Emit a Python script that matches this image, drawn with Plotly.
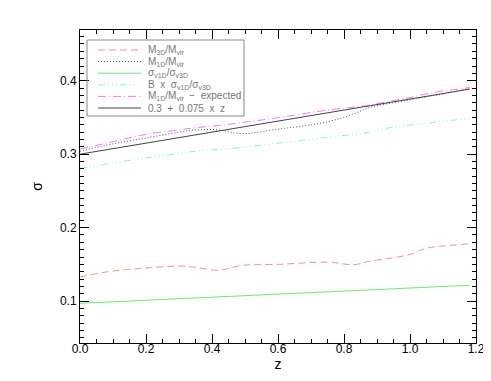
import plotly.graph_objects as go

# redshift samples
z = [0.0, 0.1, 0.2, 0.3, 0.35, 0.42, 0.49, 0.6, 0.75, 0.83, 0.88, 0.95, 1.0, 1.05, 1.1, 1.18]

# M3D/Mvir (red dashed)
m3d = [0.133, 0.141, 0.145, 0.1477, 0.146, 0.142, 0.1486, 0.150, 0.153, 0.1496, 0.1545, 0.159, 0.1635, 0.172, 0.175, 0.178]
# M1D/Mvir (dotted)
m1d = [0.304, 0.314, 0.322, 0.330, 0.333, 0.333, 0.328, 0.334, 0.344, 0.355, 0.364, 0.370, 0.374, 0.378, 0.382, 0.390]
# sigma_v1D / sigma_v3D (green)
sig = [0.097, 0.099, 0.1015, 0.103, 0.1045, 0.106, 0.1075, 0.109, 0.1125, 0.1145, 0.115, 0.1165, 0.1175, 0.119, 0.120, 0.1216]
# B x sigma ratio (cyan)
bsig = [0.2807, 0.288, 0.295, 0.301, 0.304, 0.3065, 0.309, 0.315, 0.323, 0.327, 0.330, 0.337, 0.3396, 0.342, 0.345, 0.348]
# M1D/Mvir - expected (magenta)
mexp = [0.307, 0.317, 0.327, 0.333, 0.336, 0.339, 0.343, 0.3496, 0.360, 0.364, 0.367, 0.373, 0.377, 0.382, 0.386, 0.3905]
# 0.3 + 0.075 z
zfit = [0.0, 1.18]
fitline = [0.3, 0.3885]

names = ["M<sub>3D</sub>/M<sub>vir</sub>",
         "M<sub>1D</sub>/M<sub>vir</sub>",
         "σ<sub>v1D</sub>/σ<sub>v3D</sub>",
         "B  x  σ<sub>v1D</sub>/σ<sub>v3D</sub>",
         "M<sub>1D</sub>/M<sub>vir</sub>  −  expected",
         "0.3  +  0.075  x  z"]
colors = ["#ff8c8c", "#555555", "#66ee66", "#7ff5f5", "#ff70ff", "#444444"]
dashes = ["7px,4px", "1px,2px", "solid", "7px,3px,1px,3px,1px,3px,1px,3px", "8px,3px,1px,3px", "solid"]

fig = go.Figure()

series = [(z, m3d, "spline"), (z, m1d, "spline"), (z, sig, "linear"),
          (z, bsig, "spline"), (z, mexp, "spline"), (zfit, fitline, "linear")]
for (xs, ys, shp), nm, c, d in zip(series, names, colors, dashes):
    fig.add_trace(go.Scatter(x=xs, y=ys, mode="lines", line_shape=shp, name=nm,
                             showlegend=False, line=dict(color=c, width=1, dash=d)))

# hand-drawn legend box like the IDL one
x0, x1 = 72, 468
y0, y1 = 22, 335
def px_x(p):
    return (p - x0) / (x1 - x0)
def px_y(p):
    return (y1 - p) / (y1 - y0)

fig.add_shape(type="rect", xref="paper", yref="paper",
              x0=px_x(79), x1=px_x(236), y0=px_y(108), y1=px_y(32),
              line=dict(color="#888888", width=1))
for i, (nm, c, d) in enumerate(zip(names, colors, dashes)):
    yy = px_y(42 + i * 11.6)
    fig.add_shape(type="line", xref="paper", yref="paper",
                  x0=px_x(90), x1=px_x(133), y0=yy, y1=yy,
                  line=dict(color=c, width=1, dash=d))
    fig.add_annotation(xref="paper", yref="paper", x=px_x(139), y=yy,
                       xanchor="left", yanchor="middle", text=nm, showarrow=False,
                       borderpad=0, font=dict(size=10, color="#777777"))

fig.update_layout(
    width=491, height=381,
    margin=dict(l=72, r=23, t=22, b=46),
    plot_bgcolor="white", paper_bgcolor="white",
    font=dict(family="Liberation Sans", size=12, color="black"),
    showlegend=False,
    xaxis=dict(title=dict(text="z", standoff=2), range=[0, 1.2], dtick=0.2, tickformat=".1f",
               showgrid=False, zeroline=False, showline=True, linecolor="black",
               linewidth=1, mirror="ticks", ticks="inside", ticklen=9, tickcolor="black",
               ticklabelstandoff=-5, automargin=False,
               minor=dict(dtick=0.05, ticks="inside", ticklen=4, tickcolor="black")),
    yaxis=dict(title=dict(text="σ", standoff=14), range=[0.043, 0.469], dtick=0.1, tickformat=".1f",
               showgrid=False, zeroline=False, showline=True, linecolor="black",
               linewidth=1, mirror="ticks", ticks="inside", ticklen=9, tickcolor="black",
               automargin=False,
               minor=dict(dtick=0.01, ticks="inside", ticklen=4, tickcolor="black")),
)

fig.write_html("out.html")
